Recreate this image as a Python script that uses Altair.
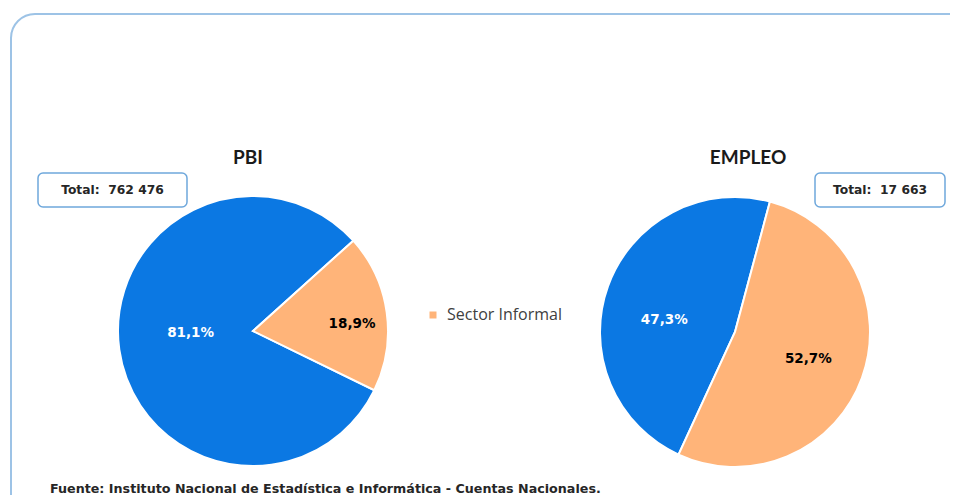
import altair as alt
import pandas as pd
import math

# ---- data ----
categories = ["Sector Formal", "Sector Informal"]
pbi_values = [81.1, 18.9]
empleo_values = [47.3, 52.7]
titles = ["PBI", "EMPLEO"]
totals = ["762 476", "17 663"]
source_note = ["Fuente: Instituto Nacional de Estadística e Informática - Cuentas Nacionales."]

BLUE = "#0B78E3"
ORANGE = "#FFB479"
TITLE_FONT = "Lato"
BOLD_FONT = "DejaVu Sans"
LEGEND_FONT = "Open Sans"
NBSP = "\u00a0"

color_scale = alt.Scale(domain=categories, range=[BLUE, ORANGE])


def pie(values, cx, cy, start_deg, lab_formal, lab_informal):
    df = pd.DataFrame({"cat": categories, "v": values})
    start = math.radians(start_deg)
    tscale = alt.Scale(domain=[0, 100], range=[start, start + 2 * math.pi])
    base = alt.Chart(df)
    arcs = base.mark_arc(radius=135, stroke="white", strokeWidth=2).encode(
        x=alt.value(cx), y=alt.value(cy),
        theta=alt.Theta("v:Q", stack=True, scale=tscale),
        color=alt.Color("cat:N", scale=color_scale,
                        legend=alt.Legend(values=["Sector Informal"], title=None,
                                          orient="none", legendX=417, legendY=299,
                                          symbolType="square", symbolSize=49,
                                          labelFontSize=16, labelFont=LEGEND_FONT,
                                          labelColor="#404040", padding=0,
                                          labelOffset=6, symbolStrokeWidth=0)),
        order=alt.Order("cat:N", sort="descending"),
    )

    def lab(cat, style, col):
        r, dx, dy = style
        return base.transform_stack(
            stack="v", groupby=[], as_=["t0", "t1"],
            sort=[alt.SortField("cat", order="descending")],
        ).transform_calculate(
            mid="(datum.t0 + datum.t1) / 2",
            label="replace(format(datum.v, '.1f'), '.', ',') + '%'",
        ).transform_filter(
            alt.datum.cat == cat
        ).mark_text(font=BOLD_FONT, fontWeight="bold", fontSize=13.5, color=col,
                    dx=dx, dy=dy).encode(
            x=alt.value(cx), y=alt.value(cy),
            theta=alt.Theta("mid:Q", scale=tscale),
            radius=alt.value(r),
            text="label:N",
        )

    return alt.layer(arcs, lab("Sector Formal", lab_formal, "white"),
                     lab("Sector Informal", lab_informal, "black"))


pbi = pie(pbi_values, 245, 323, 48, (63, 0, -7), (100, 0, 7))
emp = pie(empleo_values, 727, 324, 15, (72, -3, 12), (78, 0, 1))

border = alt.Chart(pd.DataFrame({"a": [0]})).mark_rect(
    fill=None, stroke="#9DC3E6", strokeWidth=2, cornerRadius=24
).encode(x=alt.value(3), x2=alt.value(975), y=alt.value(6), y2=alt.value(515))

title_df = pd.DataFrame({"t": titles})
t1 = alt.Chart(title_df).transform_filter(alt.datum.t == titles[0]).mark_text(
    font=TITLE_FONT, fontWeight="bold", fontSize=19, color="#1a1a1a"
).encode(x=alt.value(240), y=alt.value(150), text="t:N")
t2 = alt.Chart(title_df).transform_filter(alt.datum.t == titles[1]).mark_text(
    font=TITLE_FONT, fontWeight="bold", fontSize=19, color="#1a1a1a"
).encode(x=alt.value(740), y=alt.value(150), text="t:N")

tot_df = pd.DataFrame({"t": totals})


def total_box(val, x0, x1):
    box = alt.Chart(pd.DataFrame({"a": [0]})).mark_rect(
        fill="white", stroke="#6FA8DC", strokeWidth=1.5, cornerRadius=5
    ).encode(x=alt.value(x0), x2=alt.value(x1), y=alt.value(165), y2=alt.value(199))
    txt = alt.Chart(tot_df).transform_filter(alt.datum.t == val).transform_calculate(
        label=f"'Total:{NBSP}{NBSP}' + replace(datum.t, ' ', '{NBSP}')"
    ).mark_text(font=BOLD_FONT, fontWeight="bold", fontSize=12.3, color="#262626").encode(
        x=alt.value((x0 + x1) / 2), y=alt.value(182), text="label:N"
    )
    return box + txt


box1 = total_box(totals[0], 30, 179)
box2 = total_box(totals[1], 807, 937)

footer = alt.Chart(pd.DataFrame({"t": source_note})).mark_text(
    font=BOLD_FONT, fontWeight="bold", fontSize=12.7, color="#262626", align="left"
).encode(x=alt.value(42), y=alt.value(481), text="t:N")

chart = alt.layer(border, pbi, emp, t1, t2, box1, box2, footer).resolve_scale(
    theta="independent"
).properties(
    width=942, height=487, padding=0,
    autosize=alt.AutoSizeParams(type="none"),
).configure_view(stroke=None)

chart.save("out.html", embed_options={"renderer": "svg", "actions": False})
